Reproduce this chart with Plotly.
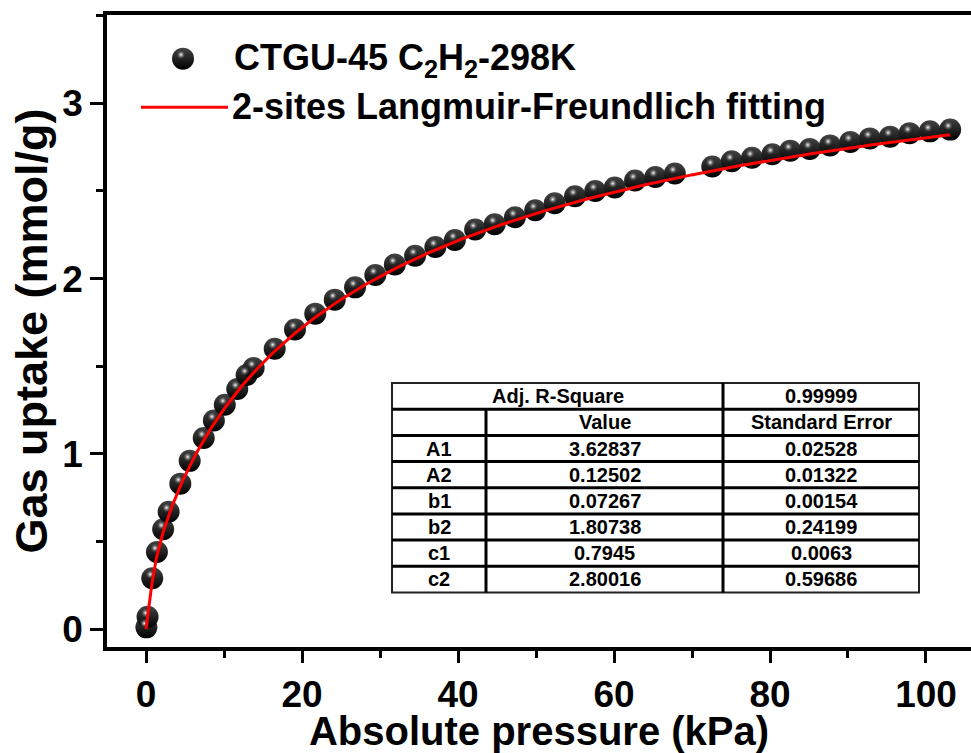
import numpy as np
import plotly.graph_objects as go

# ---- measured isotherm: CTGU-45, C2H2 at 298 K ----
pressure_kpa = [0.05, 0.2, 0.8, 1.4, 2.2, 2.9, 4.4, 5.6, 7.4, 8.7,
                10.1, 11.7, 12.9, 13.8, 16.5, 19.1, 21.7, 24.2, 26.8, 29.4,
                31.9, 34.5, 37.1, 39.6, 42.2, 44.7, 47.3, 49.9, 52.4, 55.0,
                57.6, 60.1, 62.7, 65.3, 67.8, 72.6, 75.1, 77.7, 80.3, 82.6,
                85.1, 87.7, 90.3, 92.8, 95.4, 97.9, 100.5, 103.1]
uptake_mmol_g = [0.01, 0.07, 0.29, 0.44, 0.57, 0.67, 0.83, 0.96, 1.09, 1.19,
                 1.28, 1.37, 1.45, 1.49, 1.60, 1.71, 1.80, 1.88, 1.95, 2.02,
                 2.08, 2.13, 2.18, 2.22, 2.28, 2.31, 2.35, 2.39, 2.43, 2.47,
                 2.50, 2.52, 2.56, 2.58, 2.60, 2.64, 2.67, 2.69, 2.71, 2.73,
                 2.74, 2.76, 2.78, 2.80, 2.81, 2.83, 2.84, 2.85]

# ---- dual-site Langmuir-Freundlich fit results ----
adj_r_square = "0.99999"
param_names = ["A1", "A2", "b1", "b2", "c1", "c2"]
param_values = ["3.62837", "0.12502", "0.07267", "1.80738", "0.7945", "2.80016"]
param_errors = ["0.02528", "0.01322", "0.00154", "0.24199", "0.0063", "0.59686"]

x_ticks = [0, 20, 40, 60, 80, 100]
y_ticks = [0, 1, 2, 3]

series_label = "CTGU-45 C<sub>2</sub>H<sub>2</sub>-298K"
fit_label = "2-sites Langmuir-Freundlich fitting"

# ---- fitted curve from the tabulated parameters ----
p = {k: float(v) for k, v in zip(param_names, param_values)}
P = np.linspace(0.0, max(pressure_kpa), 800)


def lf_site(A, b, c):
    t = b * np.power(P, c)
    return A * t / (1.0 + t)


q_fit = lf_site(p["A1"], p["b1"], p["c1"]) + lf_site(p["A2"], p["b2"], p["c2"])

# ---- page geometry ----
W, H = 971, 753
ML, MR, MT, MB = 107, 0, 15, 101
PW, PH = W - ML - MR, H - MT - MB
X_RANGE = [-5.0, 105.77]
Y_RANGE = [-0.102, 3.504]


def px_x(v):
    return (v - ML) / PW


def px_y(v):
    return (H - MB - v) / PH


FONT = "Liberation Sans, Arial, Helvetica, sans-serif"

# sphere highlight offset (pixels -> data units)
dx = -2.0 * (X_RANGE[1] - X_RANGE[0]) / PW
dy = 4.0 * (Y_RANGE[1] - Y_RANGE[0]) / PH

sphere = dict(size=22, color="#444444",
              gradient=dict(type="vertical", color="#000000"),
              line=dict(width=0))
glint = dict(size=11, color="rgba(0,0,0,0)",
             gradient=dict(type="radial", color="#ffffff"),
             line=dict(width=0))

fig = go.Figure()

fig.add_trace(go.Scatter(
    x=pressure_kpa, y=uptake_mmol_g, mode="markers", name="CTGU-45 C2H2-298K",
    marker=sphere, showlegend=False, hoverinfo="x+y"))
fig.add_trace(go.Scatter(
    x=[v + dx for v in pressure_kpa], y=[v + dy for v in uptake_mmol_g],
    mode="markers", marker=glint, showlegend=False, hoverinfo="skip"))
fig.add_trace(go.Scatter(
    x=P, y=q_fit, mode="lines", name="2-sites Langmuir-Freundlich fitting",
    line=dict(color="#ff0000", width=3), showlegend=False, hoverinfo="skip"))

# ---- legend sample symbols on a paper-like overlay axis ----
leg_mx, leg_my = px_x(183), px_y(59)
fig.add_trace(go.Scatter(
    x=[leg_mx], y=[leg_my], xaxis="x2", yaxis="y2", mode="markers",
    marker=sphere, showlegend=False, hoverinfo="skip"))
fig.add_trace(go.Scatter(
    x=[leg_mx - 2.0 / PW], y=[leg_my + 4.0 / PH], xaxis="x2", yaxis="y2",
    mode="markers", marker=glint, showlegend=False, hoverinfo="skip"))

shapes = [dict(type="line", xref="paper", yref="paper",
               x0=px_x(141), x1=px_x(228), y0=px_y(108), y1=px_y(108),
               line=dict(color="#ff0000", width=3))]

legend_font = dict(family=FONT, size=36, color="#000", weight="bold")
annotations = [
    dict(text=series_label, xref="paper", yref="paper", x=px_x(232), y=px_y(60),
         xanchor="left", yanchor="middle", showarrow=False, font=legend_font),
    dict(text=fit_label, xref="paper", yref="paper", x=px_x(230), y=px_y(107),
         xanchor="left", yanchor="middle", showarrow=False, font=legend_font),
]

# ---- parameter table ----
T_L, T_R, T_T, T_B = 392, 919, 386, 597
C1, C2 = 486, 723
n_rows = 2 + len(param_names)
row_h = (T_B - T_T) / n_rows

shapes.append(dict(type="rect", xref="paper", yref="paper", layer="above",
                   x0=px_x(T_L), x1=px_x(T_R), y0=px_y(T_B), y1=px_y(T_T),
                   fillcolor="#ffffff", line=dict(color="#222", width=2)))
for i in range(1, n_rows):
    yy = T_T + i * row_h
    shapes.append(dict(type="line", xref="paper", yref="paper", layer="above",
                       x0=px_x(T_L), x1=px_x(T_R), y0=px_y(yy), y1=px_y(yy),
                       line=dict(color="#000", width=3)))
shapes.append(dict(type="line", xref="paper", yref="paper", layer="above",
                   x0=px_x(C1), x1=px_x(C1), y0=px_y(T_T + row_h), y1=px_y(T_B),
                   line=dict(color="#000", width=3)))
shapes.append(dict(type="line", xref="paper", yref="paper", layer="above",
                   x0=px_x(C2), x1=px_x(C2), y0=px_y(T_T), y1=px_y(T_B),
                   line=dict(color="#000", width=3)))

cell_font = dict(family=FONT, size=20, color="#000", weight="bold")


def cell(text, xc, row):
    yc = T_T + (row + 0.5) * row_h
    annotations.append(dict(text=text, xref="paper", yref="paper",
                            x=px_x(xc), y=px_y(yc), xanchor="center",
                            yanchor="middle", showarrow=False, font=cell_font))


cell("Adj. R-Square", (T_L + C2) / 2, 0)
cell(adj_r_square, (C2 + T_R) / 2, 0)
cell("Value", (C1 + C2) / 2, 1)
cell("Standard Error", (C2 + T_R) / 2, 1)
for r, (nm, val, err) in enumerate(zip(param_names, param_values, param_errors)):
    cell(nm, (T_L + C1) / 2, r + 2)
    cell(val, (C1 + C2) / 2, r + 2)
    cell(err, (C2 + T_R) / 2, r + 2)

axis_font = dict(family=FONT, size=37, color="#000", weight="bold")
xtitle_font = dict(family=FONT, size=40, color="#000", weight="bold")
ytitle_font = dict(family=FONT, size=45, color="#000", weight="bold")

fig.update_layout(
    width=W, height=H,
    margin=dict(l=ML, r=MR, t=MT, b=MB, pad=0),
    paper_bgcolor="#ffffff", plot_bgcolor="#ffffff",
    showlegend=False,
    shapes=shapes, annotations=annotations,
    xaxis=dict(range=X_RANGE, tickvals=x_ticks, ticks="outside", ticklen=12,
               tickwidth=3, tickcolor="#000", showline=True, linewidth=3.5,
               linecolor="#000", mirror=True, showgrid=False, zeroline=False,
               tickfont=axis_font,
               minor=dict(dtick=10, tick0=0, ticks="outside", ticklen=7,
                          tickwidth=3, tickcolor="#000", showgrid=False),
               title=dict(text="Absolute pressure (kPa)", font=xtitle_font,
                          standoff=10)),
    yaxis=dict(range=Y_RANGE, tickvals=y_ticks, ticks="outside", ticklen=13,
               tickwidth=3, tickcolor="#000", showline=True, linewidth=3.5,
               linecolor="#000", mirror=False, showgrid=False, zeroline=False,
               tickfont=axis_font,
               minor=dict(dtick=0.5, tick0=0, ticks="outside", ticklen=7,
                          tickwidth=3, tickcolor="#000", showgrid=False),
               title=dict(text="Gas uptake (mmol/g)", font=ytitle_font,
                          standoff=2)),
    xaxis2=dict(range=[0, 1], overlaying="x", anchor="y2", visible=False,
                fixedrange=True),
    yaxis2=dict(range=[0, 1], overlaying="y", anchor="x2", visible=False,
                fixedrange=True),
)

fig.write_html("out.html")
